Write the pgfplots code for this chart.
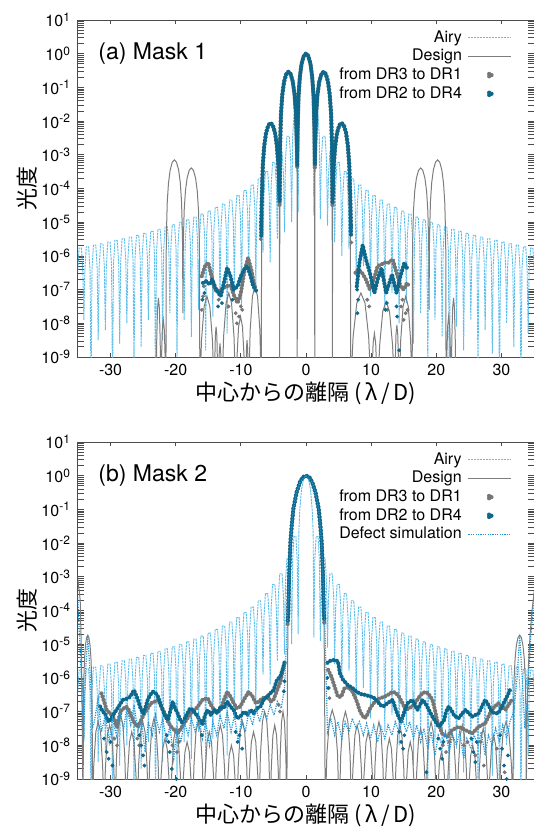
\documentclass[border=0pt]{standalone}
\usepackage{fontspec}
\setmainfont{TeX Gyre Heros}
\newfontfamily\jp{Noto Sans CJK JP}
\usepackage{pgfplots}
\pgfplotsset{compat=1.18}

\definecolor{airy}{RGB}{92,190,235}
\definecolor{design}{RGB}{125,125,125}
\definecolor{drgray}{RGB}{118,118,118}
\definecolor{drblue}{RGB}{14,104,140}
\definecolor{defect}{RGB}{35,150,210}

\begin{document}
\begin{tikzpicture}
\useasboundingbox (-39pt,10pt) rectangle (228pt,-404.5pt);

\begin{axis}[
  at={(0,0)}, anchor=north west,
  scale only axis, width=228pt, height=168.5pt,
  xmin=-35, xmax=35, ymode=log, ymin=1e-9, ymax=10,
  xtick={-30,-20,-10,0,10,20,30},
  xticklabels={-30,-20,-10,0,10,20,30},
  ytick={1e-9,1e-8,1e-7,1e-6,1e-5,1e-4,1e-3,1e-2,1e-1,1,10},
  yticklabels={10\textsuperscript{-9},10\textsuperscript{-8},10\textsuperscript{-7},10\textsuperscript{-6},10\textsuperscript{-5},10\textsuperscript{-4},10\textsuperscript{-3},10\textsuperscript{-2},10\textsuperscript{-1},10\textsuperscript{0},10\textsuperscript{1}},
  minor tick num=0,
  major tick length=2pt,
  tick style={black!70, line width=0.4pt},
  axis line style={black!70, line width=0.5pt},
  tick label style={font=\fontsize{8}{9}\selectfont},
  xlabel={\jp 中心からの離隔 (\,λ\,/\,D)},
  ylabel={\jp 光度},
  label style={font=\fontsize{11}{13}\selectfont},
  xlabel style={at={(axis description cs:0.5,-0.107)}, anchor=center},
  ylabel style={yshift=-5pt},
  legend plot pos=right,
  legend cell align=right,
  legend style={at={(1,1)}, anchor=north east, xshift=-8pt, yshift=-2pt,
    draw=none, fill=none, font=\fontsize{8}{9}\selectfont,
    nodes={inner sep=1pt}, column sep=2pt},
]
\addplot[airy, line width=0.45pt, dash pattern=on 1.2pt off 0.4pt,
  legend image code/.code={\draw[airy, line width=0.5pt, dash pattern=on 1pt off 0.5pt] (0cm,0cm) -- (0.75cm,0cm);}]
  table[row sep=\\, y expr=10^(\thisrow{l})] {x l\\
-35.05 -6.47\\ -34.83 -5.77\\ -34.47 -5.77\\ -34.25 -6.47\\ -34.1 -7.9\\
-33.95 -6.43\\ -33.73 -5.73\\ -33.37 -5.73\\ -33.15 -6.43\\ -33.0 -10\\
-32.85 -6.38\\ -32.63 -5.68\\ -32.27 -5.68\\ -32.05 -6.38\\ -31.9 -8.5\\
-31.75 -6.34\\ -31.53 -5.64\\ -31.17 -5.64\\ -30.95 -6.34\\ -30.8 -8.2\\
-30.65 -6.29\\ -30.43 -5.59\\ -30.07 -5.59\\ -29.85 -6.29\\ -29.7 -10\\
-29.55 -6.24\\ -29.33 -5.54\\ -28.97 -5.54\\ -28.75 -6.24\\ -28.6 -8.6\\
-28.45 -6.19\\ -28.23 -5.49\\ -27.87 -5.49\\ -27.65 -6.19\\ -27.5 -8.0\\
-27.35 -6.14\\ -27.13 -5.44\\ -26.77 -5.44\\ -26.55 -6.14\\ -26.4 -9.4\\
-26.25 -6.09\\ -26.03 -5.39\\ -25.67 -5.39\\ -25.45 -6.09\\ -25.3 -8.7\\
-25.15 -6.03\\ -24.93 -5.33\\ -24.57 -5.33\\ -24.35 -6.03\\ -24.2 -7.9\\
-24.05 -5.97\\ -23.83 -5.27\\ -23.47 -5.27\\ -23.25 -5.97\\ -23.1 -10\\
-22.95 -5.91\\ -22.73 -5.21\\ -22.37 -5.21\\ -22.15 -5.91\\ -22.0 -8.5\\
-21.85 -5.84\\ -21.63 -5.14\\ -21.27 -5.14\\ -21.05 -5.84\\ -20.9 -7.7\\
-20.75 -5.78\\ -20.53 -5.08\\ -20.17 -5.08\\ -19.95 -5.78\\ -19.8 -9.0\\
-19.65 -5.70\\ -19.43 -5.00\\ -19.07 -5.00\\ -18.85 -5.70\\ -18.7 -7.9\\
-18.55 -5.63\\ -18.33 -4.93\\ -17.97 -4.93\\ -17.75 -5.63\\ -17.6 -8.4\\
-17.45 -5.55\\ -17.23 -4.85\\ -16.87 -4.85\\ -16.65 -5.55\\ -16.5 -7.6\\
-16.35 -5.46\\ -16.13 -4.76\\ -15.77 -4.76\\ -15.55 -5.46\\ -15.4 -8.8\\
-15.25 -5.37\\ -15.03 -4.67\\ -14.67 -4.67\\ -14.45 -5.37\\ -14.3 -7.8\\
-14.15 -5.26\\ -13.93 -4.56\\ -13.57 -4.56\\ -13.35 -5.26\\ -13.2 -7.3\\
-13.05 -5.16\\ -12.83 -4.46\\ -12.47 -4.46\\ -12.25 -5.16\\ -12.1 -8.3\\
-11.95 -5.04\\ -11.73 -4.34\\ -11.37 -4.34\\ -11.15 -5.04\\ -11.0 -7.0\\
-10.85 -4.91\\ -10.63 -4.21\\ -10.27 -4.21\\ -10.05 -4.91\\ -9.9 -7.5\\
-9.75 -4.76\\ -9.53 -4.06\\ -9.17 -4.06\\ -8.95 -4.76\\ -8.8 -6.4\\
-8.65 -4.60\\ -8.43 -3.90\\ -8.07 -3.90\\ -7.85 -4.60\\ -7.7 -6.9\\
-7.55 -4.41\\ -7.33 -3.71\\ -6.97 -3.71\\ -6.75 -4.41\\ -6.6 -5.9\\
-6.45 -4.20\\ -6.23 -3.50\\ -5.87 -3.50\\ -5.65 -4.20\\ -5.5 -6.2\\
-5.35 -3.93\\ -5.13 -3.23\\ -4.77 -3.23\\ -4.55 -3.93\\ -4.4 -5.5\\
-4.25 -3.61\\ -4.03 -2.91\\ -3.67 -2.91\\ -3.45 -3.61\\ -3.3 -5.3\\
-3.15 -3.15\\ -2.93 -2.45\\ -2.57 -2.45\\ -2.35 -3.15\\ -2.2 -5.0\\
-2.05 -2.5\\ -1.85 -1.8\\ -1.55 -1.8\\ -1.35 -2.5\\ -1.2 -4.7\\
-1.1 -1.7\\ -0.95 -1.0\\ -0.7 -0.42\\ -0.4 -0.12\\ 0 0\\ 0.4 -0.12\\ 0.7 -0.42\\ 0.95 -1.0\\ 1.1 -1.7\\
1.2 -4.8\\ 1.35 -2.5\\ 1.55 -1.8\\ 1.85 -1.8\\ 2.05 -2.5\\
2.2 -4.9\\ 2.35 -3.15\\ 2.57 -2.45\\ 2.93 -2.45\\ 3.15 -3.15\\
3.3 -5.1\\ 3.45 -3.61\\ 3.67 -2.91\\ 4.03 -2.91\\ 4.25 -3.61\\
4.4 -5.6\\ 4.55 -3.93\\ 4.77 -3.23\\ 5.13 -3.23\\ 5.35 -3.93\\
5.5 -6.0\\ 5.65 -4.20\\ 5.87 -3.50\\ 6.23 -3.50\\ 6.45 -4.20\\
6.6 -5.8\\ 6.75 -4.41\\ 6.97 -3.71\\ 7.33 -3.71\\ 7.55 -4.41\\
7.7 -6.6\\ 7.85 -4.60\\ 8.07 -3.90\\ 8.43 -3.90\\ 8.65 -4.60\\
8.8 -6.3\\ 8.95 -4.76\\ 9.17 -4.06\\ 9.53 -4.06\\ 9.75 -4.76\\
9.9 -7.2\\ 10.05 -4.91\\ 10.27 -4.21\\ 10.63 -4.21\\ 10.85 -4.91\\
11.0 -6.8\\ 11.15 -5.04\\ 11.37 -4.34\\ 11.73 -4.34\\ 11.95 -5.04\\
12.1 -7.6\\ 12.25 -5.16\\ 12.47 -4.46\\ 12.83 -4.46\\ 13.05 -5.16\\
13.2 -7.1\\ 13.35 -5.26\\ 13.57 -4.56\\ 13.93 -4.56\\ 14.15 -5.26\\
14.3 -8.0\\ 14.45 -5.37\\ 14.67 -4.67\\ 15.03 -4.67\\ 15.25 -5.37\\
15.4 -7.4\\ 15.55 -5.46\\ 15.77 -4.76\\ 16.13 -4.76\\ 16.35 -5.46\\
16.5 -8.6\\ 16.65 -5.55\\ 16.87 -4.85\\ 17.23 -4.85\\ 17.45 -5.55\\
17.6 -7.7\\ 17.75 -5.63\\ 17.97 -4.93\\ 18.33 -4.93\\ 18.55 -5.63\\
18.7 -9.3\\ 18.85 -5.70\\ 19.07 -5.00\\ 19.43 -5.00\\ 19.65 -5.70\\
19.8 -7.9\\ 19.95 -5.78\\ 20.17 -5.08\\ 20.53 -5.08\\ 20.75 -5.78\\
20.9 -8.4\\ 21.05 -5.84\\ 21.27 -5.14\\ 21.63 -5.14\\ 21.85 -5.84\\
22.0 -10\\ 22.15 -5.91\\ 22.37 -5.21\\ 22.73 -5.21\\ 22.95 -5.91\\
23.1 -8.1\\ 23.25 -5.97\\ 23.47 -5.27\\ 23.83 -5.27\\ 24.05 -5.97\\
24.2 -8.8\\ 24.35 -6.03\\ 24.57 -5.33\\ 24.93 -5.33\\ 25.15 -6.03\\
25.3 -7.9\\ 25.45 -6.09\\ 25.67 -5.39\\ 26.03 -5.39\\ 26.25 -6.09\\
26.4 -9.5\\ 26.55 -6.14\\ 26.77 -5.44\\ 27.13 -5.44\\ 27.35 -6.14\\
27.5 -8.2\\ 27.65 -6.19\\ 27.87 -5.49\\ 28.23 -5.49\\ 28.45 -6.19\\
28.6 -8.9\\ 28.75 -6.24\\ 28.97 -5.54\\ 29.33 -5.54\\ 29.55 -6.24\\
29.7 -10\\ 29.85 -6.29\\ 30.07 -5.59\\ 30.43 -5.59\\ 30.65 -6.29\\
30.8 -8.0\\ 30.95 -6.34\\ 31.17 -5.64\\ 31.53 -5.64\\ 31.75 -6.34\\
31.9 -8.7\\ 32.05 -6.38\\ 32.27 -5.68\\ 32.63 -5.68\\ 32.85 -6.38\\
33.0 -10\\ 33.15 -6.43\\ 33.37 -5.73\\ 33.73 -5.73\\ 33.95 -6.43\\
34.1 -8.3\\ 34.25 -6.47\\ 34.47 -5.77\\ 34.83 -5.77\\ 35.05 -6.47\\
};
\addlegendentry{Airy}

\addplot[design, line width=0.5pt,
  legend image code/.code={\draw[design, line width=0.5pt] (0cm,0cm) -- (0.75cm,0cm);}]
  table[row sep=\\, y expr=10^(\thisrow{l})] {x l\\
-23.0 -10\\ -22.92 -8.55\\ -22.79 -7.55\\ -22.65 -7.25\\ -22.51 -7.55\\ -22.38 -8.55\\ -22.3 -10\\
-22.2 -9.2\\ -22.06 -8.2\\ -21.9 -7.9\\ -21.74 -8.2\\ -21.6 -9.2\\ -21.5 -10\\
-21.47 -6.15\\ -21.43 -5.35\\ -21.3 -4.41\\ -21.11 -3.84\\ -20.85 -3.45\\ -20.53 -3.22\\ -20.2 -3.15\\
-19.88 -3.22\\ -19.55 -3.45\\ -19.29 -3.84\\ -19.1 -4.41\\ -18.97 -5.35\\ -18.93 -6.15\\ -18.9 -7.7\\
-18.87 -6.39\\ -18.83 -5.59\\ -18.7 -4.65\\ -18.51 -4.08\\ -18.25 -3.69\\ -17.93 -3.46\\ -17.6 -3.39\\
-17.28 -3.46\\ -16.95 -3.69\\ -16.69 -4.08\\ -16.5 -4.65\\ -16.37 -5.59\\ -16.33 -6.39\\ -16.3 -10\\
-16.04 -8.5\\ -15.64 -7.5\\ -15.2 -7.2\\ -14.76 -7.5\\ -14.36 -8.5\\ -14.1 -10\\
-14.03 -9.4\\ -13.92 -8.4\\ -13.8 -8.1\\ -13.68 -8.4\\ -13.57 -9.4\\ -13.5 -10\\
-13.43 -9.9\\ -13.32 -8.9\\ -13.2 -8.6\\ -13.08 -8.9\\ -12.97 -9.9\\ -12.9 -10\\
-12.65 -8.4\\ -12.27 -7.4\\ -11.85 -7.1\\ -11.43 -7.4\\ -11.05 -8.4\\ -10.8 -10\\
-10.62 -9.1\\ -10.35 -8.1\\ -10.05 -7.8\\ -9.75 -8.1\\ -9.48 -9.1\\ -9.3 -10\\
-9.24 -9.8\\ -9.15 -8.8\\ -9.05 -8.5\\ -8.95 -8.8\\ -8.86 -9.8\\ -8.8 -10\\
-8.57 -8.2\\ -8.22 -7.2\\ -7.83 -6.9\\ -7.44 -7.2\\ -7.08 -8.2\\ -6.85 -10\\
-6.82 -5.06\\ -6.78 -4.26\\ -6.64 -3.32\\ -6.43 -2.75\\ -6.15 -2.36\\ -5.8 -2.13\\ -5.45 -2.06\\
-5.1 -2.13\\ -4.75 -2.36\\ -4.47 -2.75\\ -4.26 -3.32\\ -4.12 -4.26\\ -4.08 -5.06\\ -4.05 -10\\
-4.02 -3.54\\ -3.98 -2.74\\ -3.85 -1.8\\ -3.645 -1.23\\ -3.375 -0.84\\ -3.04 -0.61\\ -2.7 -0.54\\
-2.36 -0.61\\ -2.025 -0.84\\ -1.755 -1.23\\ -1.55 -1.8\\ -1.42 -2.74\\ -1.38 -3.54\\ -1.35 -10\\
-1.32 -3.0\\ -1.28 -2.2\\ -1.15 -1.26\\ -0.945 -0.69\\ -0.675 -0.3\\ -0.34 -0.07\\ 0 0\\
0.34 -0.07\\ 0.675 -0.3\\ 0.945 -0.69\\ 1.15 -1.26\\ 1.28 -2.2\\ 1.32 -3.0\\ 1.35 -10\\
1.38 -3.54\\ 1.42 -2.74\\ 1.55 -1.8\\ 1.755 -1.23\\ 2.025 -0.84\\ 2.36 -0.61\\ 2.7 -0.54\\
3.04 -0.61\\ 3.375 -0.84\\ 3.645 -1.23\\ 3.85 -1.8\\ 3.98 -2.74\\ 4.02 -3.54\\ 4.05 -10\\
4.08 -5.06\\ 4.12 -4.26\\ 4.26 -3.32\\ 4.47 -2.75\\ 4.75 -2.36\\ 5.1 -2.13\\ 5.45 -2.06\\
5.8 -2.13\\ 6.15 -2.36\\ 6.43 -2.75\\ 6.64 -3.32\\ 6.78 -4.26\\ 6.82 -5.06\\ 6.85 -10\\
7.23 -8.4\\ 7.8 -7.4\\ 8.43 -7.1\\ 9.06 -7.4\\ 9.62 -8.4\\ 10.0 -10\\
10.12 -9.6\\ 10.3 -8.6\\ 10.5 -8.3\\ 10.7 -8.6\\ 10.88 -9.6\\ 11.0 -10\\
11.31 -8.65\\ 11.78 -7.65\\ 12.3 -7.35\\ 12.82 -7.65\\ 13.29 -8.65\\ 13.6 -10\\
13.68 -9.35\\ 13.81 -8.35\\ 13.95 -8.05\\ 14.09 -8.35\\ 14.22 -9.35\\ 14.3 -10\\
14.54 -8.5\\ 14.9 -7.5\\ 15.3 -7.2\\ 15.7 -7.5\\ 16.06 -8.5\\ 16.3 -10\\
16.33 -6.39\\ 16.37 -5.59\\ 16.5 -4.65\\ 16.69 -4.08\\ 16.95 -3.69\\ 17.28 -3.46\\ 17.6 -3.39\\
17.93 -3.46\\ 18.25 -3.69\\ 18.51 -4.08\\ 18.7 -4.65\\ 18.83 -5.59\\ 18.87 -6.39\\ 18.9 -7.6\\
18.93 -6.15\\ 18.97 -5.35\\ 19.1 -4.41\\ 19.29 -3.84\\ 19.55 -3.45\\ 19.88 -3.22\\ 20.2 -3.15\\
20.53 -3.22\\ 20.85 -3.45\\ 21.11 -3.84\\ 21.3 -4.41\\ 21.43 -5.35\\ 21.47 -6.15\\ 21.5 -10\\
21.6 -9.1\\ 21.74 -8.1\\ 21.9 -7.8\\ 22.06 -8.1\\ 22.2 -9.1\\ 22.3 -10\\
22.38 -8.55\\ 22.51 -7.55\\ 22.65 -7.25\\ 22.79 -7.55\\ 22.92 -8.55\\ 23.0 -10\\
};
\addlegendentry{Design}

\addplot[drgray, line width=2.1pt, line cap=round, dash pattern=on 0pt off 1.7pt,
  legend image code/.code={\fill[drgray] (0.375cm,0cm) circle (0.9pt);}]
  table[row sep=\\, y expr=10^(\thisrow{l})] {x l\\
-6.9 -5.2\\ -6.82 -4.6\\ -6.78 -4.26\\ -6.64 -3.32\\ -6.43 -2.75\\ -6.15 -2.36\\ -5.8 -2.13\\ -5.45 -2.06\\
-5.1 -2.13\\ -4.75 -2.36\\ -4.47 -2.75\\ -4.26 -3.32\\ -4.12 -4.26\\ -4.05 -4.5\\
-3.98 -2.74\\ -3.85 -1.8\\ -3.645 -1.23\\ -3.375 -0.84\\ -3.04 -0.61\\ -2.7 -0.54\\
-2.36 -0.61\\ -2.025 -0.84\\ -1.755 -1.23\\ -1.55 -1.8\\ -1.42 -2.74\\ -1.35 -3.4\\
-1.28 -2.2\\ -1.15 -1.26\\ -0.945 -0.69\\ -0.675 -0.3\\ -0.34 -0.07\\ 0 0\\
0.34 -0.07\\ 0.675 -0.3\\ 0.945 -0.69\\ 1.15 -1.26\\ 1.28 -2.2\\ 1.35 -3.4\\
1.42 -2.74\\ 1.55 -1.8\\ 1.755 -1.23\\ 2.025 -0.84\\ 2.36 -0.61\\ 2.7 -0.54\\
3.04 -0.61\\ 3.375 -0.84\\ 3.645 -1.23\\ 3.85 -1.8\\ 3.98 -2.74\\ 4.05 -4.5\\
4.12 -4.26\\ 4.26 -3.32\\ 4.47 -2.75\\ 4.75 -2.36\\ 5.1 -2.13\\ 5.45 -2.06\\
5.8 -2.13\\ 6.15 -2.36\\ 6.43 -2.75\\ 6.64 -3.32\\ 6.78 -4.26\\ 6.82 -4.6\\ 6.9 -5.2\\
};
\addlegendentry{from DR3 to DR1}

\addplot[drblue, line width=2.1pt, line cap=round, dash pattern=on 0pt off 1.7pt,
  legend image code/.code={\fill[drblue] (0.375cm,0cm) circle (0.9pt);}]
  table[row sep=\\, y expr=10^(\thisrow{l})] {x l\\
-6.88 -5.4\\ -6.8 -4.5\\ -6.76 -4.2\\ -6.62 -3.3\\ -6.41 -2.74\\ -6.13 -2.35\\ -5.78 -2.12\\ -5.44 -2.05\\
-5.09 -2.12\\ -4.74 -2.35\\ -4.46 -2.74\\ -4.25 -3.3\\ -4.11 -4.2\\ -4.04 -4.4\\
-3.97 -2.72\\ -3.84 -1.79\\ -3.64 -1.22\\ -3.37 -0.83\\ -3.03 -0.6\\ -2.69 -0.53\\
-2.35 -0.6\\ -2.02 -0.83\\ -1.75 -1.22\\ -1.54 -1.79\\ -1.41 -2.72\\ -1.34 -3.3\\
-1.27 -2.18\\ -1.14 -1.25\\ -0.94 -0.68\\ -0.67 -0.29\\ -0.33 -0.06\\ 0.01 0.01\\
0.35 -0.06\\ 0.68 -0.29\\ 0.95 -0.68\\ 1.16 -1.25\\ 1.29 -2.18\\ 1.36 -3.3\\
1.43 -2.72\\ 1.56 -1.79\\ 1.76 -1.22\\ 2.03 -0.83\\ 2.37 -0.6\\ 2.71 -0.53\\
3.05 -0.6\\ 3.38 -0.83\\ 3.65 -1.22\\ 3.86 -1.79\\ 3.99 -2.72\\ 4.06 -4.4\\
4.13 -4.2\\ 4.27 -3.3\\ 4.48 -2.74\\ 4.76 -2.35\\ 5.11 -2.12\\ 5.46 -2.05\\
5.81 -2.12\\ 6.16 -2.35\\ 6.44 -2.74\\ 6.65 -3.3\\ 6.79 -4.2\\ 6.83 -4.5\\ 6.92 -5.4\\
};
\addlegendentry{from DR2 to DR4}

\addplot[drgray, line width=2.1pt, line cap=round, dash pattern=on 0pt off 1.7pt, forget plot]
  table[row sep=\\, y expr=10^(\thisrow{l})] {x l\\
-16.0 -6.6\\ -15.5 -6.3\\ -15.0 -6.2\\ -14.5 -6.6\\ -14.0 -7.0\\ -13.6 -7.05\\ -13.0 -7.0\\
-12.3 -6.9\\ -11.6 -6.87\\ -11.0 -7.2\\ -10.5 -7.4\\ -10.0 -7.1\\ -9.5 -6.5\\ -8.9 -6.06\\
-8.4 -6.4\\ -7.9 -6.9\\ -7.5 -7.0\\
};
\addplot[drgray, line width=2.1pt, line cap=round, dash pattern=on 0pt off 1.7pt, forget plot]
  table[row sep=\\, y expr=10^(\thisrow{l})] {x l\\
7.6 -6.5\\ 8.0 -6.4\\ 8.6 -6.5\\ 9.2 -6.7\\ 9.8 -7.0\\ 10.4 -6.7\\ 11.0 -6.3\\ 11.6 -6.25\\
12.1 -6.2\\ 12.7 -6.2\\ 13.3 -6.1\\ 13.9 -6.5\\ 14.5 -6.9\\ 15.0 -7.0\\ 15.5 -6.8\\ 15.8 -6.9\\
};
\addplot[drgray, only marks, mark=*, mark size=0.75pt, forget plot]
  table[row sep=\\, y expr=10^(\thisrow{l})] {x l\\
-16.0 -7.6\\ -15.8 -7.2\\ -15.7 -6.9\\ -13.4 -7.3\\ -11.9 -7.5\\ -10.8 -7.7\\ -10.6 -8.0\\
-10.3 -7.8\\ -10.0 -7.5\\ -9.8 -7.6\\ 9.4 -7.3\\ 9.7 -7.5\\ 12.5 -7.6\\ 14.6 -7.5\\ 15.0 -7.9\\
15.3 -7.7\\ 15.6 -7.6\\ 14.8 -7.3\\ -6.95 -5.5\\ 6.95 -5.6\\
};
\addplot[drblue, line width=2.1pt, line cap=round, dash pattern=on 0pt off 1.7pt, forget plot]
  table[row sep=\\, y expr=10^(\thisrow{l})] {x l\\
-15.8 -6.8\\ -15.3 -6.75\\ -14.8 -6.85\\ -14.4 -6.7\\ -13.8 -7.0\\ -13.1 -7.2\\ -12.6 -6.8\\
-12.1 -6.35\\ -11.6 -6.6\\ -11.1 -7.0\\ -10.5 -6.9\\ -10.0 -6.6\\ -9.5 -6.4\\ -9.0 -6.3\\
-8.5 -6.6\\ -8.1 -6.9\\ -7.6 -7.05\\
};
\addplot[drblue, line width=2.1pt, line cap=round, dash pattern=on 0pt off 1.7pt, forget plot]
  table[row sep=\\, y expr=10^(\thisrow{l})] {x l\\
7.8 -6.9\\ 8.2 -6.2\\ 8.7 -5.68\\ 9.2 -6.1\\ 9.8 -6.5\\ 10.5 -7.1\\ 11.0 -6.7\\ 11.6 -6.36\\
12.3 -7.1\\ 12.8 -6.8\\ 13.2 -6.55\\ 13.9 -7.1\\ 14.5 -6.6\\ 15.1 -6.2\\ 15.6 -6.4\\
};
\addplot[drblue, only marks, mark=*, mark size=0.75pt, forget plot]
  table[row sep=\\, y expr=10^(\thisrow{l})] {x l\\
-15.9 -7.3\\ -15.6 -7.1\\ -13.5 -7.5\\ -12.9 -7.4\\ -11.3 -7.3\\ 7.9 -7.7\\ 8.0 -7.3\\
7.85 -7.0\\ 12.2 -7.6\\ 12.4 -7.4\\ 13.9 -7.5\\ 14.0 -7.8\\ 14.3 -8.8\\ -6.92 -5.0\\ 6.93 -5.1\\
};

\node[anchor=west, inner sep=0pt, font=\fontsize{11.5}{13}\selectfont] at (rel axis cs:0.044,0.9) {(a) Mask 1};
\end{axis}

\begin{axis}[
  at={(0,-211pt)}, anchor=north west,
  scale only axis, width=228pt, height=168.5pt,
  xmin=-35, xmax=35, ymode=log, ymin=1e-9, ymax=10,
  xtick={-30,-20,-10,0,10,20,30},
  xticklabels={-30,-20,-10,0,10,20,30},
  ytick={1e-9,1e-8,1e-7,1e-6,1e-5,1e-4,1e-3,1e-2,1e-1,1,10},
  yticklabels={10\textsuperscript{-9},10\textsuperscript{-8},10\textsuperscript{-7},10\textsuperscript{-6},10\textsuperscript{-5},10\textsuperscript{-4},10\textsuperscript{-3},10\textsuperscript{-2},10\textsuperscript{-1},10\textsuperscript{0},10\textsuperscript{1}},
  minor tick num=0,
  major tick length=2pt,
  tick style={black!70, line width=0.4pt},
  axis line style={black!70, line width=0.5pt},
  tick label style={font=\fontsize{8}{9}\selectfont},
  xlabel={\jp 中心からの離隔 (\,λ\,/\,D)},
  ylabel={\jp 光度},
  label style={font=\fontsize{11}{13}\selectfont},
  xlabel style={at={(axis description cs:0.5,-0.107)}, anchor=center},
  ylabel style={yshift=-5pt},
  legend plot pos=right,
  legend cell align=right,
  legend style={at={(1,1)}, anchor=north east, xshift=-8pt, yshift=-2pt,
    draw=none, fill=none, font=\fontsize{8}{9}\selectfont,
    nodes={inner sep=1pt}, column sep=2pt},
]
\addplot[airy, line width=0.45pt, dash pattern=on 1.2pt off 0.4pt,
  legend image code/.code={\draw[airy, line width=0.5pt, dash pattern=on 1pt off 0.5pt] (0cm,0cm) -- (0.75cm,0cm);}]
  table[row sep=\\, y expr=10^(\thisrow{l})] {x l\\
-35.05 -6.47\\ -34.83 -5.77\\ -34.47 -5.77\\ -34.25 -6.47\\ -34.1 -7.9\\
-33.95 -6.43\\ -33.73 -5.73\\ -33.37 -5.73\\ -33.15 -6.43\\ -33.0 -10\\
-32.85 -6.38\\ -32.63 -5.68\\ -32.27 -5.68\\ -32.05 -6.38\\ -31.9 -8.5\\
-31.75 -6.34\\ -31.53 -5.64\\ -31.17 -5.64\\ -30.95 -6.34\\ -30.8 -8.2\\
-30.65 -6.29\\ -30.43 -5.59\\ -30.07 -5.59\\ -29.85 -6.29\\ -29.7 -10\\
-29.55 -6.24\\ -29.33 -5.54\\ -28.97 -5.54\\ -28.75 -6.24\\ -28.6 -8.6\\
-28.45 -6.19\\ -28.23 -5.49\\ -27.87 -5.49\\ -27.65 -6.19\\ -27.5 -8.0\\
-27.35 -6.14\\ -27.13 -5.44\\ -26.77 -5.44\\ -26.55 -6.14\\ -26.4 -9.4\\
-26.25 -6.09\\ -26.03 -5.39\\ -25.67 -5.39\\ -25.45 -6.09\\ -25.3 -8.7\\
-25.15 -6.03\\ -24.93 -5.33\\ -24.57 -5.33\\ -24.35 -6.03\\ -24.2 -7.9\\
-24.05 -5.97\\ -23.83 -5.27\\ -23.47 -5.27\\ -23.25 -5.97\\ -23.1 -10\\
-22.95 -5.91\\ -22.73 -5.21\\ -22.37 -5.21\\ -22.15 -5.91\\ -22.0 -8.5\\
-21.85 -5.84\\ -21.63 -5.14\\ -21.27 -5.14\\ -21.05 -5.84\\ -20.9 -7.7\\
-20.75 -5.78\\ -20.53 -5.08\\ -20.17 -5.08\\ -19.95 -5.78\\ -19.8 -9.0\\
-19.65 -5.70\\ -19.43 -5.00\\ -19.07 -5.00\\ -18.85 -5.70\\ -18.7 -7.9\\
-18.55 -5.63\\ -18.33 -4.93\\ -17.97 -4.93\\ -17.75 -5.63\\ -17.6 -8.4\\
-17.45 -5.55\\ -17.23 -4.85\\ -16.87 -4.85\\ -16.65 -5.55\\ -16.5 -7.6\\
-16.35 -5.46\\ -16.13 -4.76\\ -15.77 -4.76\\ -15.55 -5.46\\ -15.4 -8.8\\
-15.25 -5.37\\ -15.03 -4.67\\ -14.67 -4.67\\ -14.45 -5.37\\ -14.3 -7.8\\
-14.15 -5.26\\ -13.93 -4.56\\ -13.57 -4.56\\ -13.35 -5.26\\ -13.2 -7.3\\
-13.05 -5.16\\ -12.83 -4.46\\ -12.47 -4.46\\ -12.25 -5.16\\ -12.1 -8.3\\
-11.95 -5.04\\ -11.73 -4.34\\ -11.37 -4.34\\ -11.15 -5.04\\ -11.0 -7.0\\
-10.85 -4.91\\ -10.63 -4.21\\ -10.27 -4.21\\ -10.05 -4.91\\ -9.9 -7.5\\
-9.75 -4.76\\ -9.53 -4.06\\ -9.17 -4.06\\ -8.95 -4.76\\ -8.8 -6.4\\
-8.65 -4.60\\ -8.43 -3.90\\ -8.07 -3.90\\ -7.85 -4.60\\ -7.7 -6.9\\
-7.55 -4.41\\ -7.33 -3.71\\ -6.97 -3.71\\ -6.75 -4.41\\ -6.6 -5.9\\
-6.45 -4.20\\ -6.23 -3.50\\ -5.87 -3.50\\ -5.65 -4.20\\ -5.5 -6.2\\
-5.35 -3.93\\ -5.13 -3.23\\ -4.77 -3.23\\ -4.55 -3.93\\ -4.4 -5.5\\
-4.25 -3.61\\ -4.03 -2.91\\ -3.67 -2.91\\ -3.45 -3.61\\ -3.3 -5.3\\
-3.15 -3.15\\ -2.93 -2.45\\ -2.57 -2.45\\ -2.35 -3.15\\ -2.2 -5.0\\
-2.05 -2.5\\ -1.85 -1.8\\ -1.55 -1.8\\ -1.35 -2.5\\ -1.2 -4.7\\
-1.1 -1.7\\ -0.95 -1.0\\ -0.7 -0.42\\ -0.4 -0.12\\ 0 0\\ 0.4 -0.12\\ 0.7 -0.42\\ 0.95 -1.0\\ 1.1 -1.7\\
1.2 -4.8\\ 1.35 -2.5\\ 1.55 -1.8\\ 1.85 -1.8\\ 2.05 -2.5\\
2.2 -4.9\\ 2.35 -3.15\\ 2.57 -2.45\\ 2.93 -2.45\\ 3.15 -3.15\\
3.3 -5.1\\ 3.45 -3.61\\ 3.67 -2.91\\ 4.03 -2.91\\ 4.25 -3.61\\
4.4 -5.6\\ 4.55 -3.93\\ 4.77 -3.23\\ 5.13 -3.23\\ 5.35 -3.93\\
5.5 -6.0\\ 5.65 -4.20\\ 5.87 -3.50\\ 6.23 -3.50\\ 6.45 -4.20\\
6.6 -5.8\\ 6.75 -4.41\\ 6.97 -3.71\\ 7.33 -3.71\\ 7.55 -4.41\\
7.7 -6.6\\ 7.85 -4.60\\ 8.07 -3.90\\ 8.43 -3.90\\ 8.65 -4.60\\
8.8 -6.3\\ 8.95 -4.76\\ 9.17 -4.06\\ 9.53 -4.06\\ 9.75 -4.76\\
9.9 -7.2\\ 10.05 -4.91\\ 10.27 -4.21\\ 10.63 -4.21\\ 10.85 -4.91\\
11.0 -6.8\\ 11.15 -5.04\\ 11.37 -4.34\\ 11.73 -4.34\\ 11.95 -5.04\\
12.1 -7.6\\ 12.25 -5.16\\ 12.47 -4.46\\ 12.83 -4.46\\ 13.05 -5.16\\
13.2 -7.1\\ 13.35 -5.26\\ 13.57 -4.56\\ 13.93 -4.56\\ 14.15 -5.26\\
14.3 -8.0\\ 14.45 -5.37\\ 14.67 -4.67\\ 15.03 -4.67\\ 15.25 -5.37\\
15.4 -7.4\\ 15.55 -5.46\\ 15.77 -4.76\\ 16.13 -4.76\\ 16.35 -5.46\\
16.5 -8.6\\ 16.65 -5.55\\ 16.87 -4.85\\ 17.23 -4.85\\ 17.45 -5.55\\
17.6 -7.7\\ 17.75 -5.63\\ 17.97 -4.93\\ 18.33 -4.93\\ 18.55 -5.63\\
18.7 -9.3\\ 18.85 -5.70\\ 19.07 -5.00\\ 19.43 -5.00\\ 19.65 -5.70\\
19.8 -7.9\\ 19.95 -5.78\\ 20.17 -5.08\\ 20.53 -5.08\\ 20.75 -5.78\\
20.9 -8.4\\ 21.05 -5.84\\ 21.27 -5.14\\ 21.63 -5.14\\ 21.85 -5.84\\
22.0 -10\\ 22.15 -5.91\\ 22.37 -5.21\\ 22.73 -5.21\\ 22.95 -5.91\\
23.1 -8.1\\ 23.25 -5.97\\ 23.47 -5.27\\ 23.83 -5.27\\ 24.05 -5.97\\
24.2 -8.8\\ 24.35 -6.03\\ 24.57 -5.33\\ 24.93 -5.33\\ 25.15 -6.03\\
25.3 -7.9\\ 25.45 -6.09\\ 25.67 -5.39\\ 26.03 -5.39\\ 26.25 -6.09\\
26.4 -9.5\\ 26.55 -6.14\\ 26.77 -5.44\\ 27.13 -5.44\\ 27.35 -6.14\\
27.5 -8.2\\ 27.65 -6.19\\ 27.87 -5.49\\ 28.23 -5.49\\ 28.45 -6.19\\
28.6 -8.9\\ 28.75 -6.24\\ 28.97 -5.54\\ 29.33 -5.54\\ 29.55 -6.24\\
29.7 -10\\ 29.85 -6.29\\ 30.07 -5.59\\ 30.43 -5.59\\ 30.65 -6.29\\
30.8 -8.0\\ 30.95 -6.34\\ 31.17 -5.64\\ 31.53 -5.64\\ 31.75 -6.34\\
31.9 -8.7\\ 32.05 -6.38\\ 32.27 -5.68\\ 32.63 -5.68\\ 32.85 -6.38\\
33.0 -10\\ 33.15 -6.43\\ 33.37 -5.73\\ 33.73 -5.73\\ 33.95 -6.43\\
34.1 -8.3\\ 34.25 -6.47\\ 34.47 -5.77\\ 34.83 -5.77\\ 35.05 -6.47\\
};
\addlegendentry{Airy}

\addplot[design, line width=0.5pt,
  legend image code/.code={\draw[design, line width=0.5pt] (0cm,0cm) -- (0.75cm,0cm);}]
  table[row sep=\\, y expr=10^(\thisrow{l})] {x l\\
-35.05 -3.0\\ -34.66 -3.7\\ -34.45 -5.5\\ -34.3 -8.5\\ -34.2 -10\\
-34.19 -7.73\\ -34.17 -6.93\\ -34.1 -5.99\\ -33.99 -5.42\\ -33.85 -5.03\\ -33.68 -4.80\\ -33.5 -4.73\\
-33.33 -4.80\\ -33.15 -5.03\\ -33.01 -5.42\\ -32.9 -5.99\\ -32.83 -6.93\\ -32.81 -7.73\\ -32.8 -10\\
-32.58 -8.6\\ -32.26 -7.6\\ -31.9 -7.3\\ -31.54 -7.6\\ -31.22 -8.6\\ -31.0 -10\\
-30.8 -8.7\\ -30.49 -7.7\\ -30.15 -7.4\\ -29.81 -7.7\\ -29.5 -8.7\\ -29.3 -10\\
-29.1 -8.4\\ -28.79 -7.4\\ -28.45 -7.1\\ -28.11 -7.4\\ -27.8 -8.4\\ -27.6 -10\\
-27.4 -8.9\\ -27.09 -7.9\\ -26.75 -7.6\\ -26.41 -7.9\\ -26.1 -8.9\\ -25.9 -10\\
-25.7 -8.6\\ -25.39 -7.6\\ -25.05 -7.3\\ -24.71 -7.6\\ -24.4 -8.6\\ -24.2 -10\\
-24.0 -8.5\\ -23.69 -7.5\\ -23.35 -7.2\\ -23.01 -7.5\\ -22.7 -8.5\\ -22.5 -10\\
-22.3 -9.1\\ -21.99 -8.1\\ -21.65 -7.8\\ -21.31 -8.1\\ -21.0 -9.1\\ -20.8 -10\\
-20.6 -8.8\\ -20.29 -7.8\\ -19.95 -7.5\\ -19.61 -7.8\\ -19.3 -8.8\\ -19.1 -10\\
-18.9 -9.2\\ -18.59 -8.2\\ -18.25 -7.9\\ -17.91 -8.2\\ -17.6 -9.2\\ -17.4 -10\\
-17.2 -8.6\\ -16.89 -7.6\\ -16.55 -7.3\\ -16.21 -7.6\\ -15.9 -8.6\\ -15.7 -10\\
-15.5 -8.9\\ -15.19 -7.9\\ -14.85 -7.6\\ -14.51 -7.9\\ -14.2 -8.9\\ -14.0 -10\\
-13.8 -8.7\\ -13.49 -7.7\\ -13.15 -7.4\\ -12.81 -7.7\\ -12.5 -8.7\\ -12.3 -10\\
-12.1 -9.3\\ -11.79 -8.3\\ -11.45 -8.0\\ -11.11 -8.3\\ -10.8 -9.3\\ -10.6 -10\\
-10.4 -8.6\\ -10.09 -7.6\\ -9.75 -7.3\\ -9.41 -7.6\\ -9.1 -8.6\\ -8.9 -10\\
-8.7 -8.9\\ -8.39 -7.9\\ -8.05 -7.6\\ -7.71 -7.9\\ -7.4 -8.9\\ -7.2 -10\\
-7.0 -8.3\\ -6.69 -7.3\\ -6.35 -7.0\\ -6.01 -7.3\\ -5.7 -8.3\\ -5.5 -10\\
-5.33 -8.7\\ -5.08 -7.7\\ -4.8 -7.4\\ -4.52 -7.7\\ -4.27 -8.7\\ -4.1 -10\\
-3.96 -8.3\\ -3.755 -7.3\\ -3.525 -7.0\\ -3.295 -7.3\\ -3.09 -8.3\\ -2.95 -10\\
-2.85 -6.0\\ -2.75 -4.2\\ -2.6 -3.0\\ -2.4 -2.0\\ -2.2 -1.5\\ -1.95 -1.0\\ -1.45 -0.5\\ -0.95 -0.2\\ -0.5 -0.05\\ 0 0\\
0.5 -0.05\\ 0.95 -0.2\\ 1.45 -0.5\\ 1.95 -1.0\\ 2.2 -1.5\\ 2.4 -2.0\\ 2.6 -3.0\\ 2.75 -4.2\\ 2.85 -6.0\\ 2.95 -10\\
3.21 -8.25\\ 3.6 -7.25\\ 4.03 -6.95\\ 4.46 -7.25\\ 4.84 -8.25\\ 5.1 -10\\
5.33 -8.3\\ 5.67 -7.3\\ 6.05 -7.0\\ 6.43 -7.3\\ 6.77 -8.3\\ 7.0 -10\\
7.2 -8.7\\ 7.51 -7.7\\ 7.85 -7.4\\ 8.19 -7.7\\ 8.5 -8.7\\ 8.7 -10\\
8.9 -8.9\\ 9.21 -7.9\\ 9.55 -7.6\\ 9.89 -7.9\\ 10.2 -8.9\\ 10.4 -10\\
10.59 -8.6\\ 10.88 -7.6\\ 11.2 -7.3\\ 11.52 -7.6\\ 11.81 -8.6\\ 12.0 -10\\
12.19 -9.1\\ 12.48 -8.1\\ 12.8 -7.8\\ 13.12 -8.1\\ 13.41 -9.1\\ 13.6 -10\\
13.79 -8.7\\ 14.08 -7.7\\ 14.4 -7.4\\ 14.72 -7.7\\ 15.01 -8.7\\ 15.2 -10\\
15.39 -9.2\\ 15.68 -8.2\\ 16.0 -7.9\\ 16.32 -8.2\\ 16.61 -9.2\\ 16.8 -10\\
16.99 -8.8\\ 17.28 -7.8\\ 17.6 -7.5\\ 17.92 -7.8\\ 18.21 -8.8\\ 18.4 -10\\
18.59 -8.6\\ 18.88 -7.6\\ 19.2 -7.3\\ 19.52 -7.6\\ 19.81 -8.6\\ 20.0 -10\\
20.19 -9.5\\ 20.48 -8.5\\ 20.8 -8.2\\ 21.12 -8.5\\ 21.41 -9.5\\ 21.6 -10\\
21.79 -8.9\\ 22.08 -7.9\\ 22.4 -7.6\\ 22.72 -7.9\\ 23.01 -8.9\\ 23.2 -10\\
23.39 -8.7\\ 23.68 -7.7\\ 24.0 -7.4\\ 24.32 -7.7\\ 24.61 -8.7\\ 24.8 -10\\
24.99 -9.3\\ 25.28 -8.3\\ 25.6 -8.0\\ 25.92 -8.3\\ 26.21 -9.3\\ 26.4 -10\\
26.59 -8.8\\ 26.88 -7.8\\ 27.2 -7.5\\ 27.52 -7.8\\ 27.81 -8.8\\ 28.0 -10\\
28.19 -9.0\\ 28.48 -8.0\\ 28.8 -7.7\\ 29.12 -8.0\\ 29.41 -9.0\\ 29.6 -10\\
29.86 -8.6\\ 30.26 -7.6\\ 30.7 -7.3\\ 31.14 -7.6\\ 31.54 -8.6\\ 31.8 -10\\
31.82 -7.73\\ 31.85 -6.93\\ 31.95 -5.99\\ 32.1 -5.42\\ 32.3 -5.03\\ 32.55 -4.80\\ 32.8 -4.73\\
33.05 -4.80\\ 33.3 -5.03\\ 33.5 -5.42\\ 33.65 -5.99\\ 33.75 -6.93\\ 33.78 -7.73\\ 33.8 -10\\
33.9 -7.5\\ 34.1 -5.8\\ 34.4 -4.7\\ 34.7 -4.0\\ 35.05 -3.4\\
};
\addlegendentry{Design}

\addplot[drgray, line width=2.1pt, line cap=round, dash pattern=on 0pt off 1.7pt,
  legend image code/.code={\fill[drgray] (0.375cm,0cm) circle (0.9pt);}]
  table[row sep=\\, y expr=10^(\thisrow{l})] {x l\\
-2.82 -4.4\\ -2.75 -4.2\\ -2.6 -3.0\\ -2.4 -2.0\\ -2.2 -1.5\\ -1.95 -1.0\\ -1.45 -0.5\\ -0.95 -0.2\\ -0.5 -0.05\\ 0 0\\
0.5 -0.05\\ 0.95 -0.2\\ 1.45 -0.5\\ 1.95 -1.0\\ 2.2 -1.5\\ 2.4 -2.0\\ 2.6 -3.0\\ 2.75 -4.2\\ 2.82 -4.4\\
};
\addlegendentry{from DR3 to DR1}

\addplot[drblue, line width=2.1pt, line cap=round, dash pattern=on 0pt off 1.7pt,
  legend image code/.code={\fill[drblue] (0.375cm,0cm) circle (0.9pt);}]
  table[row sep=\\, y expr=10^(\thisrow{l})] {x l\\
-2.8 -4.3\\ -2.74 -4.1\\ -2.59 -2.95\\ -2.39 -1.97\\ -2.19 -1.48\\ -1.94 -0.98\\ -1.44 -0.49\\ -0.94 -0.19\\ -0.49 -0.04\\ 0.01 0\\
0.51 -0.04\\ 0.96 -0.19\\ 1.46 -0.49\\ 1.96 -0.98\\ 2.21 -1.48\\ 2.41 -1.97\\ 2.61 -2.95\\ 2.76 -4.1\\ 2.83 -4.3\\
};
\addlegendentry{from DR2 to DR4}

\addplot[drgray, line width=2.1pt, line cap=round, dash pattern=on 0pt off 1.7pt, forget plot]
  table[row sep=\\, y expr=10^(\thisrow{l})] {x l\\
-31.4 -6.46\\ -31.0 -6.7\\ -30.6 -6.95\\ -30.1 -7.05\\ -29.6 -7.15\\ -29.0 -7.45\\ -28.6 -7.1\\ -28.3 -6.95\\
-27.6 -6.85\\ -27.2 -6.95\\ -26.8 -7.15\\ -26.3 -7.35\\ -25.8 -7.45\\ -25.3 -7.25\\ -24.8 -7.05\\ -24.3 -6.9\\
-23.8 -6.75\\ -23.2 -6.7\\ -22.7 -6.65\\ -22.2 -6.85\\ -21.7 -7.05\\ -21.2 -7.3\\ -20.7 -7.45\\ -20.2 -7.55\\
-19.7 -7.65\\ -19.2 -7.5\\ -18.7 -7.35\\ -18.2 -7.2\\ -17.7 -7.05\\ -17.1 -6.95\\ -16.6 -6.85\\ -15.9 -6.65\\
-15.1 -6.6\\ -14.6 -6.8\\ -14.1 -6.95\\ -13.6 -7.0\\ -13.1 -6.95\\ -12.6 -6.65\\ -12.1 -6.41\\ -11.6 -6.55\\
-11.1 -6.75\\ -10.6 -6.9\\ -10.1 -6.85\\ -9.4 -6.6\\ -8.8 -6.41\\ -8.2 -6.55\\ -7.7 -6.75\\ -7.2 -6.7\\
-6.7 -6.6\\ -5.9 -6.56\\ -5.4 -6.7\\ -5.0 -6.65\\ -4.4 -6.35\\ -3.9 -6.1\\ -3.5 -5.7\\ -3.2 -5.5\\
};
\addplot[drgray, line width=2.1pt, line cap=round, dash pattern=on 0pt off 1.7pt, forget plot]
  table[row sep=\\, y expr=10^(\thisrow{l})] {x l\\
3.4 -5.76\\ 3.9 -5.96\\ 4.4 -6.26\\ 4.9 -6.56\\ 5.4 -6.56\\ 5.9 -6.31\\ 6.3 -6.28\\ 6.7 -6.31\\
7.1 -6.4\\ 7.5 -6.56\\ 7.9 -6.75\\ 8.2 -6.95\\ 8.6 -7.1\\ 9.0 -7.2\\ 9.4 -7.1\\ 9.7 -6.95\\
10.2 -6.8\\ 10.8 -6.65\\ 11.4 -6.6\\ 12.0 -6.56\\ 12.6 -6.5\\ 13.3 -6.41\\ 13.8 -6.45\\ 14.3 -6.56\\
14.8 -6.75\\ 15.3 -6.95\\ 15.8 -6.9\\ 16.3 -6.85\\ 16.9 -6.7\\ 17.4 -6.56\\ 17.9 -6.45\\ 18.4 -6.41\\
18.9 -6.5\\ 19.4 -6.65\\ 19.8 -6.95\\ 20.1 -7.25\\ 20.5 -7.45\\ 20.9 -7.65\\ 21.3 -7.7\\ 21.7 -7.75\\
22.0 -7.65\\ 22.4 -7.55\\ 22.9 -7.5\\ 23.4 -7.45\\ 24.0 -7.5\\ 24.5 -7.55\\ 25.0 -7.6\\ 25.5 -7.65\\
26.0 -7.55\\ 26.5 -7.45\\ 27.0 -7.4\\ 27.5 -7.35\\ 28.0 -7.15\\ 28.5 -6.95\\ 29.0 -6.85\\ 29.5 -6.75\\
30.1 -6.85\\ 30.6 -6.95\\ 31.1 -6.8\\ 31.6 -6.65\\
};
\addplot[drgray, only marks, mark=*, mark size=0.75pt, forget plot]
  table[row sep=\\, y expr=10^(\thisrow{l})] {x l\\
-29.4 -7.8\\ -29.0 -8.0\\ -25.9 -7.8\\ -25.6 -8.0\\ -20.5 -8.0\\ -19.8 -8.2\\ -19.5 -7.9\\ -4.2 -6.8\\
-4.0 -7.0\\ 3.5 -6.3\\ 3.6 -6.6\\ 21.0 -8.0\\ 21.5 -8.2\\ 22.0 -7.9\\ 24.2 -8.0\\ 24.8 -7.9\\
26.0 -8.3\\ 26.8 -7.9\\ 27.3 -8.6\\ 29.3 -8.1\\ 30.5 -8.8\\
};
\addplot[drblue, line width=2.1pt, line cap=round, dash pattern=on 0pt off 1.7pt, forget plot]
  table[row sep=\\, y expr=10^(\thisrow{l})] {x l\\
-31.6 -6.85\\ -31.2 -7.0\\ -30.85 -7.05\\ -30.5 -7.25\\ -30.2 -7.3\\ -29.6 -7.1\\ -29.1 -6.95\\ -28.6 -6.8\\
-28.1 -6.65\\ -27.5 -6.62\\ -27.0 -6.56\\ -26.4 -6.36\\ -25.8 -6.65\\ -25.4 -6.9\\ -25.0 -7.05\\ -24.6 -6.85\\
-24.3 -6.65\\ -23.9 -6.5\\ -23.5 -6.41\\ -23.1 -6.45\\ -22.7 -6.56\\ -22.3 -6.8\\ -22.0 -6.95\\ -21.6 -7.15\\
-21.2 -7.25\\ -20.8 -6.95\\ -20.45 -6.7\\ -20.1 -6.9\\ -19.7 -7.05\\ -19.3 -7.25\\ -18.9 -7.35\\ -18.5 -7.15\\
-18.2 -7.05\\ -17.8 -6.9\\ -17.4 -6.95\\ -17.0 -7.05\\ -16.6 -7.15\\ -16.2 -7.3\\ -15.9 -7.4\\ -15.5 -7.1\\
-15.1 -6.95\\ -14.6 -7.1\\ -14.1 -6.95\\ -13.6 -7.05\\ -13.1 -6.85\\ -12.6 -6.9\\ -12.1 -6.7\\ -11.6 -6.85\\
-11.1 -6.95\\ -10.6 -7.2\\ -10.1 -7.15\\ -9.5 -7.0\\ -9.0 -7.1\\ -8.5 -6.95\\ -8.0 -7.05\\ -7.5 -6.9\\
-7.0 -6.85\\ -6.5 -6.65\\ -6.0 -6.56\\ -5.5 -6.46\\ -4.97 -6.36\\ -4.46 -6.06\\ -3.95 -5.96\\ -3.45 -5.67\\ -3.2 -5.47\\
};
\addplot[drblue, line width=2.1pt, line cap=round, dash pattern=on 0pt off 1.7pt, forget plot]
  table[row sep=\\, y expr=10^(\thisrow{l})] {x l\\
3.3 -5.55\\ 3.6 -5.5\\ 4.2 -5.47\\ 4.9 -5.5\\ 5.2 -5.86\\ 5.7 -6.06\\ 6.4 -6.21\\ 7.2 -6.31\\
7.7 -6.4\\ 8.2 -6.46\\ 8.7 -6.5\\ 9.2 -6.5\\ 9.7 -6.55\\ 10.2 -6.56\\ 10.6 -6.62\\ 11.0 -6.7\\
11.4 -6.8\\ 11.8 -6.85\\ 12.2 -6.8\\ 12.5 -6.75\\ 12.9 -6.7\\ 13.3 -6.65\\ 13.8 -6.95\\ 14.2 -7.15\\
14.6 -7.3\\ 15.1 -7.0\\ 15.6 -6.75\\ 16.0 -6.7\\ 16.3 -6.65\\ 16.7 -6.8\\ 17.1 -6.95\\ 17.5 -6.8\\
17.9 -6.65\\ 18.3 -6.75\\ 18.6 -6.85\\ 19.0 -7.0\\ 19.4 -7.15\\ 19.9 -7.3\\ 20.4 -7.45\\ 20.8 -7.35\\
21.2 -7.25\\ 21.5 -7.0\\ 21.9 -6.85\\ 22.3 -6.95\\ 22.7 -7.1\\ 23.0 -7.15\\ 23.4 -7.2\\ 24.0 -7.05\\
24.5 -6.95\\ 25.0 -7.05\\ 25.5 -7.15\\ 26.0 -7.1\\ 26.5 -7.05\\ 27.0 -6.85\\ 27.5 -6.65\\ 28.0 -6.8\\
28.5 -7.0\\ 29.0 -7.05\\ 29.5 -7.05\\ 30.1 -6.85\\ 30.6 -6.65\\ 31.0 -6.5\\ 31.3 -6.36\\
};
\addplot[drblue, only marks, mark=*, mark size=0.75pt, forget plot]
  table[row sep=\\, y expr=10^(\thisrow{l})] {x l\\
-31.0 -7.8\\ -30.6 -8.2\\ -30.3 -8.4\\ -30.0 -7.9\\ -29.7 -8.6\\ -25.6 -7.7\\ -25.3 -8.0\\ -25.0 -8.3\\
-24.8 -8.6\\ -21.4 -7.7\\ -21.1 -7.9\\ -20.9 -8.2\\ -20.6 -8.7\\ -19.9 -9.0\\ -16.0 -7.7\\ -10.8 -7.6\\
-10.5 -7.9\\ -10.2 -7.7\\ -9.8 -8.1\\ -3.3 -6.1\\ -3.4 -6.4\\ 3.3 -6.0\\ 3.4 -6.3\\ 14.3 -7.6\\
14.6 -7.9\\ 14.9 -8.1\\ 15.1 -7.7\\ 20.3 -7.8\\ 20.6 -8.1\\ 20.9 -8.4\\ 21.1 -7.9\\ 25.4 -7.8\\
25.7 -8.2\\ 26.0 -8.5\\ 26.2 -7.9\\ 29.8 -7.7\\ 30.1 -8.1\\ 30.4 -8.6\\ 30.8 -9.0\\ 31.0 -8.3\\ 18.5 -8.8\\
};

\addplot[defect, line width=0.6pt, dash pattern=on 0.6pt off 0.6pt,
  legend image code/.code={\draw[defect, line width=0.6pt, dash pattern=on 0.6pt off 0.6pt] (0cm,0cm) -- (0.75cm,0cm);}]
  table[row sep=\\, y expr=10^(\thisrow{l})] {x l\\
-35.05 -3.6\\ -34.7 -5.0\\ -34.4 -6.5\\ -34.1 -7.8\\ -33.9 -6.0\\ -33.5 -4.75\\ -33.1 -6.0\\ -32.8 -7.5\\
-32.5 -7.3\\ -31.9 -6.6\\ -31.4 -7.6\\ -30.8 -7.1\\ -30.2 -7.9\\ -29.7 -7.2\\ -29.1 -7.7\\ -28.6 -7.0\\
-28.0 -7.5\\ -27.5 -6.9\\ -26.9 -7.4\\ -26.4 -6.8\\ -25.8 -7.6\\ -25.3 -7.2\\ -24.7 -8.2\\ -24.2 -7.3\\
-23.6 -7.7\\ -23.1 -7.1\\ -22.5 -7.6\\ -22.0 -7.2\\ -21.4 -7.9\\ -20.9 -7.4\\ -20.3 -8.4\\ -19.8 -7.5\\
-19.2 -7.9\\ -18.7 -7.3\\ -18.1 -7.7\\ -17.6 -7.2\\ -17.0 -7.6\\ -16.5 -7.1\\ -15.9 -7.8\\ -15.4 -7.3\\
-14.8 -8.0\\ -14.3 -7.3\\ -13.7 -7.7\\ -13.2 -7.1\\ -12.6 -7.5\\ -12.1 -7.0\\ -11.5 -7.6\\ -11.0 -7.1\\
-10.4 -7.9\\ -9.9 -7.2\\ -9.3 -7.6\\ -8.8 -7.0\\ -8.2 -7.4\\ -7.7 -6.9\\ -7.1 -7.3\\ -6.6 -6.9\\
-6.0 -7.2\\ -5.5 -6.8\\ -4.9 -7.1\\ -4.4 -6.7\\ -3.8 -6.9\\ -3.3 -6.3\\
-2.9 -4.5\\ -2.6 -3.0\\ -2.4 -2.0\\ -1.95 -1.0\\ -1.45 -0.5\\ -0.95 -0.2\\ 0 0\\
0.95 -0.2\\ 1.45 -0.5\\ 1.95 -1.0\\ 2.4 -2.0\\ 2.6 -3.0\\ 2.9 -4.5\\
3.3 -7.6\\ 3.8 -7.2\\ 4.4 -7.7\\ 4.9 -7.3\\ 5.5 -7.8\\ 6.0 -7.3\\ 6.6 -7.6\\ 7.1 -7.2\\
7.7 -7.5\\ 8.2 -7.3\\ 8.8 -7.7\\ 9.3 -7.35\\ 9.9 -7.8\\ 10.4 -7.4\\ 11.0 -7.9\\ 11.5 -7.45\\
12.1 -7.8\\ 12.6 -7.4\\ 13.2 -7.7\\ 13.7 -7.3\\ 14.3 -7.6\\ 14.8 -7.2\\ 15.4 -7.6\\ 15.9 -7.3\\
16.5 -7.8\\ 17.0 -7.4\\ 17.6 -7.9\\ 18.1 -7.5\\ 18.7 -8.1\\ 19.2 -7.6\\ 19.8 -8.3\\ 20.3 -7.7\\
20.9 -8.0\\ 21.4 -7.6\\ 22.0 -8.2\\ 22.5 -7.7\\ 23.1 -8.0\\ 23.6 -7.6\\ 24.2 -8.4\\ 24.7 -7.8\\
25.3 -8.1\\ 25.8 -7.7\\ 26.4 -8.0\\ 26.9 -7.6\\ 27.5 -8.3\\ 28.0 -7.7\\ 28.6 -8.0\\ 29.1 -7.5\\
29.7 -7.9\\ 30.2 -7.4\\ 30.8 -7.8\\ 31.3 -7.3\\ 31.9 -7.0\\ 32.4 -6.0\\ 32.8 -4.75\\ 33.2 -6.0\\
33.6 -7.5\\ 34.0 -6.5\\ 34.5 -4.8\\ 35.05 -3.5\\
};
\addlegendentry{Defect simulation}

\node[anchor=west, inner sep=0pt, font=\fontsize{11.5}{13}\selectfont] at (rel axis cs:0.044,0.9) {(b) Mask 2};
\end{axis}
\end{tikzpicture}
\end{document}
